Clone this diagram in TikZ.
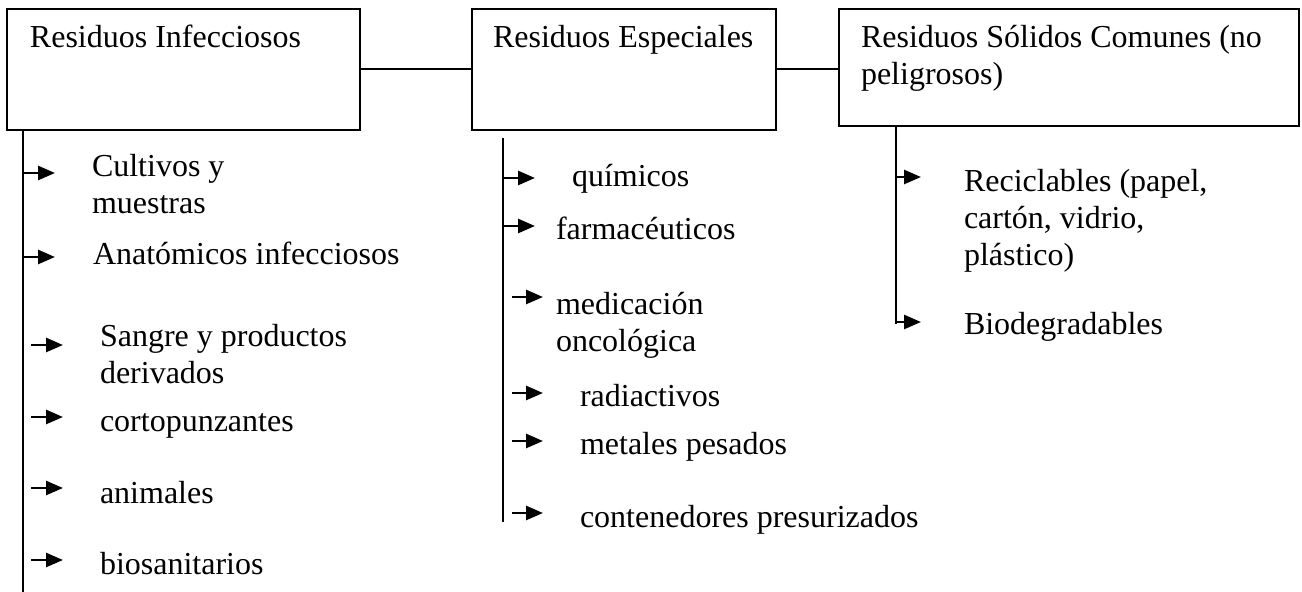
\documentclass[tikz,border=0pt]{standalone}
\usepackage{fontspec}
\setmainfont{Liberation Serif}
\usetikzlibrary{arrows.meta}

\begin{document}
\begin{tikzpicture}[x=0.5pt,y=-0.5pt,line width=1pt,
    every node/.style={font=\fontsize{16}{18.5}\selectfont,inner sep=0pt},
    box/.style={draw,rectangle,inner sep=0pt},
    item/.style={anchor=base west,align=left},
    tip/.style={line width=1.3pt,-{Triangle[length=8.5pt,width=7pt]}}]
    \useasboundingbox (0,0) rectangle (1302,592);
    % boxes
    \node[box,minimum width=176.5pt,minimum height=60.5pt] (infec) at (183.5,69.5) {};
    \node[box,minimum width=152pt,minimum height=60.5pt] (espec) at (624,69.5) {};
    \node[box,minimum width=230pt,minimum height=58.5pt] (comun) at (1069,67.5) {};
    % multi-line texts are placed at the baseline of their last line
    \node[item] (tinfec) at (29,48) {Residuos Infecciosos};
    \node[item] (tespec) at (492,48) {Residuos Especiales};
    \node[item] (tcomun) at (860,85) {Residuos Sólidos Comunes (no\\peligrosos)};
    \draw (infec.east) -- (espec.west);
    \draw (espec.east) -- (espec.east -| comun.west);
    % trunk lines
    \coordinate (la) at (23,130);
    \coordinate (lb) at (23,592);
    \coordinate (ma) at (503,138);
    \coordinate (mb) at (503,522);
    \coordinate (ra) at (896,126);
    \coordinate (rb) at (896,324);
    \draw (la) -- (lb);
    \draw (ma) -- (mb);
    \draw (ra) -- (rb);
    % infecciosos
    \node[item] (cultivos) at (91,214) {Cultivos y\\muestras};
    \node[item] (anatom) at (92,265) {Anatómicos infecciosos};
    \node[item] (sangre) at (99,384) {Sangre y productos\\derivados};
    \node[item] (corto) at (99,432) {cortopunzantes};
    \node[item] (animal) at (99,504) {animales};
    \node[item] (biosan) at (99,575) {biosanitarios};
    \coordinate (l1a) at (23,173);  \coordinate (l1b) at (55,173);
    \coordinate (l2a) at (23,257);  \coordinate (l2b) at (55,257);
    \coordinate (l3a) at (31,345);  \coordinate (l3b) at (63,345);
    \coordinate (l4a) at (31,417);  \coordinate (l4b) at (63,417);
    \coordinate (l5a) at (31,488);  \coordinate (l5b) at (63,488);
    \coordinate (l6a) at (31,560);  \coordinate (l6b) at (63,560);
    \draw[tip] (l1a) -- (l1b);
    \draw[tip] (l2a) -- (l2b);
    \draw[tip] (l3a) -- (l3b);
    \draw[tip] (l4a) -- (l4b);
    \draw[tip] (l5a) -- (l5b);
    \draw[tip] (l6a) -- (l6b);
    % especiales
    \node[item] (quim) at (571,187) {químicos};
    \node[item] (farma) at (555,240) {farmacéuticos};
    \node[item] (onco) at (555,352) {medicación\\oncológica};
    \node[item] (radia) at (579,407) {radiactivos};
    \node[item] (metal) at (579,455) {metales pesados};
    \node[item] (conte) at (579,528) {contenedores presurizados};
    \coordinate (m1a) at (503,178); \coordinate (m1b) at (535,178);
    \coordinate (m2a) at (503,226); \coordinate (m2b) at (535,226);
    \coordinate (m3a) at (512,297); \coordinate (m3b) at (543,297);
    \coordinate (m4a) at (512,393); \coordinate (m4b) at (543,393);
    \coordinate (m5a) at (512,441); \coordinate (m5b) at (543,441);
    \coordinate (m6a) at (512,513); \coordinate (m6b) at (543,513);
    \draw[tip] (m1a) -- (m1b);
    \draw[tip] (m2a) -- (m2b);
    \draw[tip] (m3a) -- (m3b);
    \draw[tip] (m4a) -- (m4b);
    \draw[tip] (m5a) -- (m5b);
    \draw[tip] (m6a) -- (m6b);
    % comunes
    \node[item] (recic) at (963,266) {Reciclables (papel,\\cartón, vidrio,\\plástico)};
    \node[item] (biodeg) at (963,335) {Biodegradables};
    \coordinate (r1a) at (896,177); \coordinate (r1b) at (921,177);
    \coordinate (r2a) at (896,322); \coordinate (r2b) at (921,322);
    \draw[tip] (r1a) -- (r1b);
    \draw[tip] (r2a) -- (r2b);
\end{tikzpicture}
\end{document}
